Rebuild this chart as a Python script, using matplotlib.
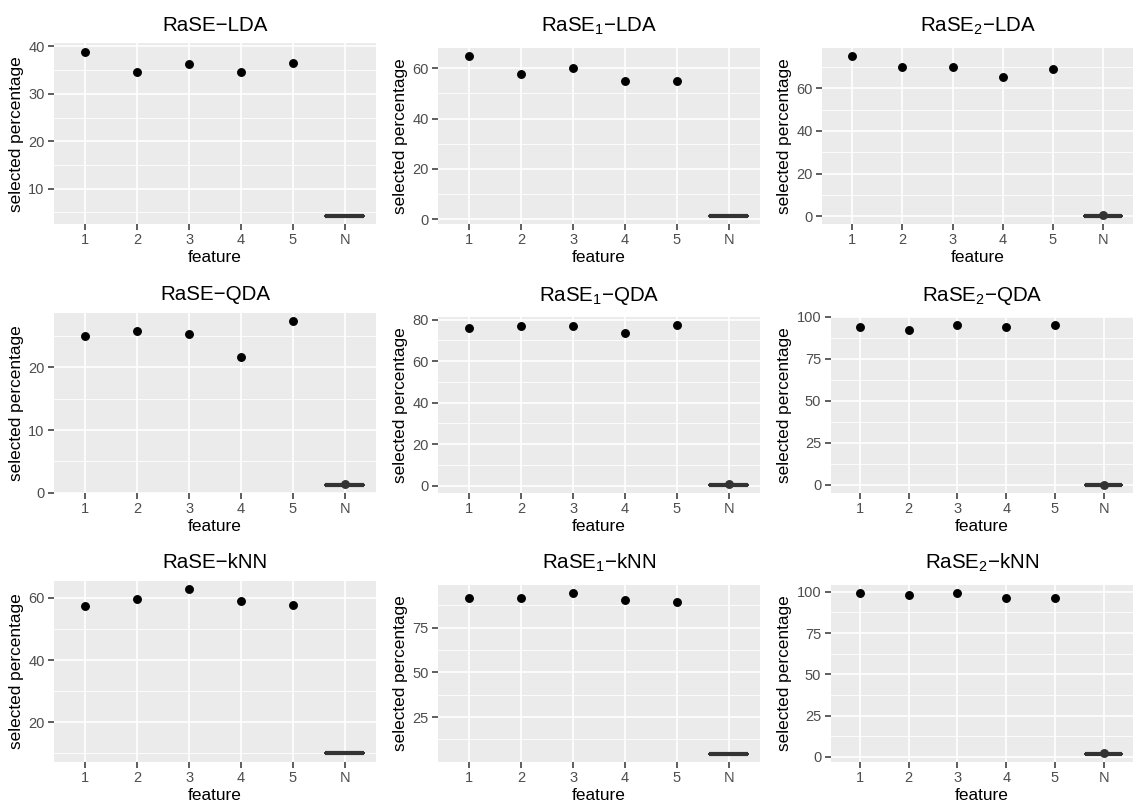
import numpy as np
import matplotlib
matplotlib.use("Agg")
import matplotlib.pyplot as plt

plt.rcParams['font.family'] = ['Liberation Sans', 'DejaVu Sans']
plt.rcParams['mathtext.fontset'] = 'custom'
plt.rcParams['mathtext.rm'] = 'Liberation Sans'
plt.rcParams['mathtext.it'] = 'Liberation Sans:italic'

features = ['1', '2', '3', '4', '5', 'N']

titles = ['RaSE−LDA', 'RaSE$_1$−LDA', 'RaSE$_2$−LDA',
          'RaSE−QDA', 'RaSE$_1$−QDA', 'RaSE$_2$−QDA',
          'RaSE−kNN', 'RaSE$_1$−kNN', 'RaSE$_2$−kNN']

# selected percentage of the 5 signal features
rase_lda = [38.9, 34.6, 36.3, 34.6, 36.4]
rase1_lda = [65.0, 57.6, 60.1, 55.1, 55.1]
rase2_lda = [75.2, 70.0, 70.0, 65.2, 69.1]
rase_qda = [25.0, 25.9, 25.4, 21.7, 27.4]
rase1_qda = [76.2, 76.8, 77.1, 73.6, 77.6]
rase2_qda = [94.1, 92.1, 95.4, 94.1, 95.0]
rase_knn = [57.5, 59.8, 62.8, 59.0, 57.6]
rase1_knn = [91.8, 91.6, 94.4, 90.3, 89.4]
rase2_knn = [99.2, 98.2, 99.0, 96.2, 96.2]

# noise features: collapsed box level and outliers
noise_box = [4.3, 1.2, 0.15, 1.25, 0.35, 0.0, 10.0, 4.5, 2.0]
noise_outliers = [[], [], [0.6], [1.45], [0.7], [0.15], [], [], [2.6]]

y_ticks = [[10, 20, 30, 40], [0, 20, 40, 60], [0, 20, 40, 60],
           [0, 10, 20], [0, 20, 40, 60, 80], [0, 25, 50, 75, 100],
           [20, 40, 60], [25, 50, 75], [0, 25, 50, 75, 100]]

signal = [rase_lda, rase1_lda, rase2_lda, rase_qda, rase1_qda, rase2_qda,
          rase_knn, rase1_knn, rase2_knn]

# panel rectangles in pixels: left, top, right, bottom
W, H = 1135, 801
rects = [(54, 43.3, 376, 224), (438, 47.7, 760, 224), (822.3, 47.7, 1133, 224),
         (54, 313, 376, 493), (438, 316.7, 760, 493), (830.7, 316.7, 1133, 493),
         (54, 581, 376, 761.7), (438, 585, 760, 761.7), (830.7, 585, 1133, 761.7)]

fig = plt.figure(figsize=(W / 100, H / 100), dpi=100)

for i in range(9):
    l, t, r, b = rects[i]
    ax = fig.add_axes([l / W, 1 - b / H, (r - l) / W, (b - t) / H])
    ax.set_facecolor('#EBEBEB')
    for s in ax.spines.values():
        s.set_visible(False)

    vals = signal[i]
    allv = vals + [noise_box[i]] + noise_outliers[i]
    lo, hi = min(allv), max(allv)
    pad = 0.05 * (hi - lo)
    ax.set_ylim(lo - pad, hi + pad)
    ax.set_xlim(0.4, 6.6)

    major = y_ticks[i]
    step = major[1] - major[0]
    minor = [major[0] - step / 2] + [m + step / 2 for m in major]
    minor = [m for m in minor if lo - pad <= m <= hi + pad]
    for m in minor:
        ax.axhline(m, color='white', lw=0.6, zorder=0.5)
    for m in major:
        ax.axhline(m, color='white', lw=1.2, zorder=0.6)
    for x in range(1, 7):
        ax.axvline(x, color='white', lw=1.2, zorder=0.6)

    ax.bxp([{'med': noise_box[i], 'q1': noise_box[i], 'q3': noise_box[i],
             'whislo': noise_box[i], 'whishi': noise_box[i],
             'fliers': noise_outliers[i]}],
           positions=[6], widths=0.75, manage_ticks=False,
           boxprops=dict(color='#333333', lw=1.4),
           medianprops=dict(color='#333333', lw=3.0, solid_capstyle='butt'),
           whiskerprops=dict(color='#333333', lw=1.4),
           capprops=dict(lw=0),
           flierprops=dict(marker='o', markerfacecolor='#333333',
                           markeredgecolor='#333333', markersize=5.4),
           zorder=2)
    ax.plot(range(1, 6), vals, 'o', color='black', markersize=5.4, zorder=3)

    ax.set_xticks(range(1, 7))
    ax.set_xticklabels(features)
    ax.set_yticks(major)
    ax.tick_params(axis='both', colors='#333333', labelcolor='#4D4D4D',
                   labelsize=10.5, length=4.3, width=1.1, pad=2.5)
    ax.set_xlabel('feature', fontsize=12.4, labelpad=2)
    ax.set_ylabel('selected percentage', fontsize=12.4, labelpad=3)
    pad_t = 9 if '$' not in titles[i] else 11.5
    ax.set_title(titles[i], fontsize=14.8, pad=pad_t)

fig.savefig('out.png', dpi=100)
